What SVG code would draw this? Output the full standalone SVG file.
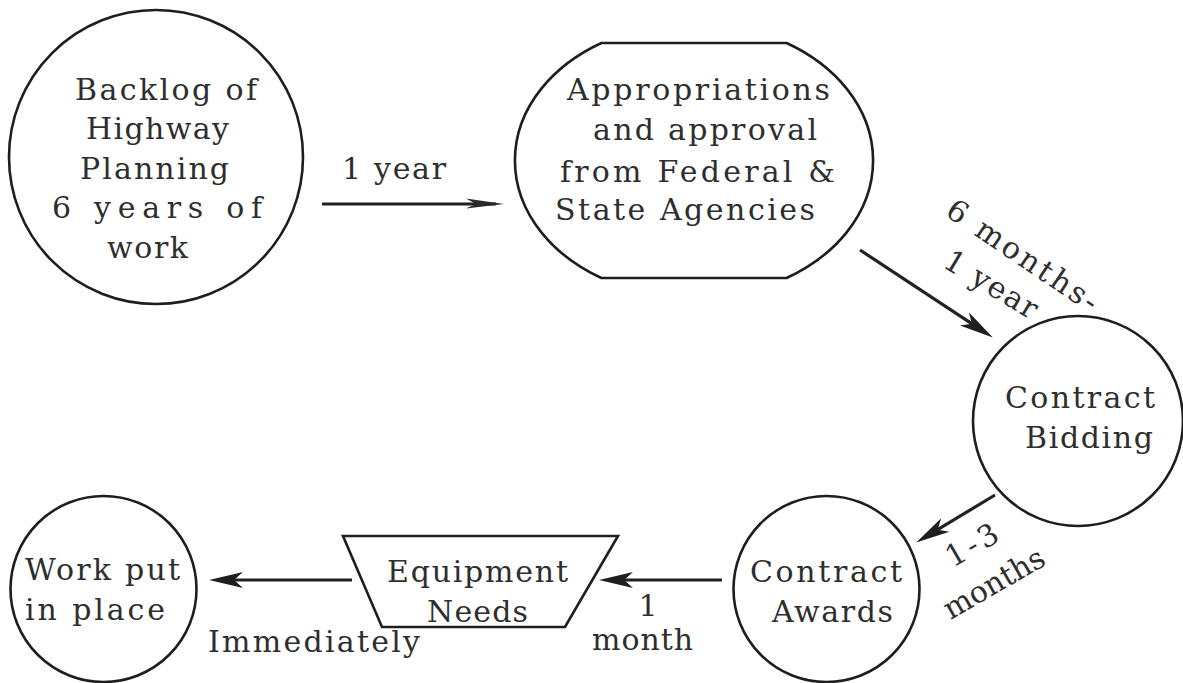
<svg xmlns="http://www.w3.org/2000/svg" width="1183" height="683" viewBox="0 0 1183 683">
  <defs>
    <style>
      .shape { fill: none; stroke: #1e1e1e; stroke-width: 2.6; }
      .conn { fill: none; stroke: #222; stroke-width: 3.2; }
      .lbl { font-family: "DejaVu Serif", "Liberation Serif", serif; font-size: 30px; fill: #2e2e2e; }
    </style>
    <marker id="head" viewBox="0 0 34 18" refX="25" refY="9" markerWidth="34" markerHeight="18" markerUnits="userSpaceOnUse" orient="auto">
      <path d="M0,1 L34,9 L0,17 L9,9 Z" fill="#1e1e1e"/>
    </marker>
    <marker id="slim" viewBox="0 0 38 16" refX="30" refY="8" markerWidth="38" markerHeight="16" markerUnits="userSpaceOnUse" orient="auto">
      <path d="M0,2.5 L38,8 L0,12.5 L10,8 Z" fill="#2a2a2a"/>
    </marker>
  </defs>

  <rect x="0" y="0" width="1183" height="683" fill="#ffffff"/>

  <!-- connectors and their durations -->
  <g id="connectors">
    <line class="conn" x1="322" y1="204" x2="496" y2="204" stroke-width="4" marker-end="url(#slim)"/>
    <line class="conn" x1="860" y1="250" x2="985.3" y2="332.6" marker-end="url(#head)"/>
    <line class="conn" x1="995" y1="495" x2="923.9" y2="537.9" marker-end="url(#head)"/>
    <line class="conn" x1="722" y1="580" x2="608" y2="580" marker-end="url(#head)"/>
    <line class="conn" x1="352" y1="580" x2="218" y2="580" marker-end="url(#head)"/>

    <text class="lbl" x="342" y="179" textLength="104" lengthAdjust="spacing">1 year</text>
    <text class="lbl" text-anchor="middle" transform="translate(1017,264) rotate(34)" textLength="176" lengthAdjust="spacing">6 months-</text>
    <text class="lbl" text-anchor="middle" transform="translate(986,293) rotate(31)" textLength="104" lengthAdjust="spacing">1 year</text>
    <text class="lbl" text-anchor="middle" transform="translate(977,554) rotate(-30)" textLength="56" lengthAdjust="spacing">1-3</text>
    <text class="lbl" text-anchor="middle" transform="translate(999,592) rotate(-30)" textLength="112" lengthAdjust="spacing">months</text>
    <text class="lbl" x="648" y="616" text-anchor="middle">1</text>
    <text class="lbl" x="592" y="650" textLength="101" lengthAdjust="spacing">month</text>
    <text class="lbl" x="208" y="652" textLength="212" lengthAdjust="spacing">Immediately</text>
  </g>

  <g id="backlog">
    <circle class="shape" cx="156" cy="157" r="147"/>
    <text class="lbl" x="75" y="100" textLength="182" lengthAdjust="spacing">Backlog of</text>
    <text class="lbl" x="86" y="139" textLength="143" lengthAdjust="spacing">Highway</text>
    <text class="lbl" x="80" y="179" textLength="149" lengthAdjust="spacing">Planning</text>
    <text class="lbl" x="52" y="218" textLength="210" lengthAdjust="spacing">6 years  of</text>
    <text class="lbl" x="107" y="258" textLength="81" lengthAdjust="spacing">work</text>
  </g>

  <g id="appropriations">
    <path class="shape" d="M601.4,43 L786.6,43 A178,137 0 0 1 786.6,278 L601.4,278 A178,137 0 0 1 601.4,43 Z"/>
    <text class="lbl" x="567" y="100" textLength="263" lengthAdjust="spacing">Appropriations</text>
    <text class="lbl" x="593" y="140" textLength="224" lengthAdjust="spacing">and approval</text>
    <text class="lbl" x="560" y="182" textLength="275" lengthAdjust="spacing">from Federal &amp;</text>
    <text class="lbl" x="555" y="220" textLength="260" lengthAdjust="spacing">State Agencies</text>
  </g>

  <g id="bidding">
    <circle class="shape" cx="1078" cy="421" r="105"/>
    <text class="lbl" x="1005" y="408" textLength="150" lengthAdjust="spacing">Contract</text>
    <text class="lbl" x="1025" y="448" textLength="128" lengthAdjust="spacing">Bidding</text>
  </g>

  <g id="awards">
    <circle class="shape" cx="826.5" cy="589" r="93"/>
    <text class="lbl" x="750" y="582" textLength="152" lengthAdjust="spacing">Contract</text>
    <text class="lbl" x="772" y="622" textLength="121" lengthAdjust="spacing">Awards</text>
  </g>

  <g id="equipment">
    <polygon class="shape" points="343,536 618,536 565,627 382,627"/>
    <text class="lbl" x="387" y="582" textLength="181" lengthAdjust="spacing">Equipment</text>
    <text class="lbl" x="427" y="622" textLength="101" lengthAdjust="spacing">Needs</text>
  </g>

  <g id="work">
    <circle class="shape" cx="103.5" cy="589" r="93"/>
    <text class="lbl" x="25" y="580" textLength="155" lengthAdjust="spacing">Work put</text>
    <text class="lbl" x="25" y="620" textLength="140" lengthAdjust="spacing">in place</text>
  </g>
</svg>
